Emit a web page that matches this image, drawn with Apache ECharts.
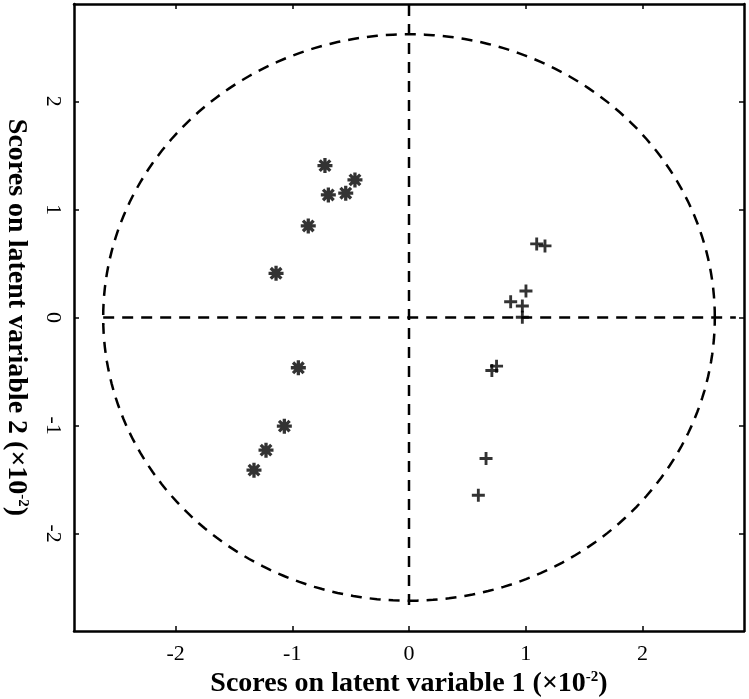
<!DOCTYPE html>
<html>
<head>
<meta charset="utf-8">
<script src="https://cdn.jsdelivr.net/npm/echarts@6/dist/echarts.min.js"></script>
<style>
  html, body { margin: 0; padding: 0; background: #fff; }
  #chart { width: 749px; height: 699px; }
</style>
</head>
<body>
<div id="chart"></div>
<script>
// scores
var groupStar = [
  [-0.72, 1.405], [-0.463, 1.273], [-0.691, 1.134], [-0.542, 1.150],
  [-0.863, 0.847], [-1.139, 0.409], [-0.948, -0.465], [-1.068, -1.005],
  [-1.225, -1.227], [-1.328, -1.412]
];
var groupPlus = [
  [1.094, 0.681], [1.165, 0.662], [1.002, 0.245], [0.871, 0.146],
  [0.971, 0.106], [0.971, 0.002], [0.71, -0.49], [0.75, -0.45],
  [0.66, -1.304], [0.594, -1.644]
];
var tickValues = [-2, -1, 0, 1, 2];
var xRange = [-2.87, 2.87];
var yRange = [-2.9, 2.9];
var circleRadius = 2.62;
var hLine = [[-2.62, 0], [2.8, 0]];
var vLine = [[0, -2.66], [0, 2.9]];

var font = 'Liberation Serif';
var dash = [11, 8];

// 8 spoke asterisk as a filled path
function starPath() {
  var w = 0.22, s = '';
  for (var k = 0; k < 4; k++) {
    var a = k * Math.PI / 4, c = Math.cos(a), n = Math.sin(a);
    var px = -n * w, py = c * w;
    var p = [[c + px, n + py], [-c + px, -n + py], [-c - px, -n - py], [c - px, n - py]];
    s += 'M' + p.map(function (q) { return (q[0] * 10).toFixed(2) + ',' + (q[1] * 10).toFixed(2); }).join('L') + 'Z';
  }
  return 'path://' + s;
}

function axisBase(pos, range, show) {
  return {
    type: 'value', position: pos, min: range[0], max: range[1],
    splitLine: { show: false },
    axisLine: { show: true, onZero: false, lineStyle: { color: '#000', width: 2.5 } },
    axisTick: { show: true, inside: true, length: 5, customValues: tickValues, lineStyle: { color: '#000', width: 1.5 } },
    axisLabel: { show: show, customValues: tickValues, color: '#000', fontFamily: font, fontSize: 22 }
  };
}

var titleStyle = {
  color: '#000', fontFamily: font, fontSize: 28, fontWeight: 'bold',
  rich: { sup: { fontFamily: font, fontSize: 15, fontWeight: 'bold', verticalAlign: 'top', padding: [0, 0, 12, 0] } }
};

var chart = echarts.init(document.getElementById('chart'));

var xMain = axisBase('bottom', xRange, true);
xMain.axisLabel.margin = 12;
xMain.name = 'Scores on latent variable 1 (×10{sup|-2})';
xMain.nameLocation = 'middle';
xMain.nameGap = 36;
xMain.nameTextStyle = titleStyle;

var yMain = axisBase('left', yRange, true);
yMain.axisLabel.rotate = -90;
yMain.axisLabel.margin = 10;
yMain.name = 'Scores on latent variable 2 (×10{sup|-2})';
yMain.nameLocation = 'middle';
yMain.nameRotate = -90;
yMain.nameGap = 44;
yMain.nameTextStyle = titleStyle;

var option = {
  backgroundColor: '#fff',
  animation: false,
  grid: { left: 74, right: 5, top: 4, bottom: 68, containLabel: false, outerBoundsMode: 'none' },
  xAxis: [xMain, axisBase('top', xRange, false)],
  yAxis: [yMain, axisBase('right', yRange, false)],
  series: [
    {
      type: 'custom',
      data: [[0, 0]],
      silent: true,
      renderItem: function (params, api) {
        var cx = api.value(0), cy = api.value(1), pts = [];
        for (var i = 0; i <= 240; i++) {
          var t = i / 240 * 2 * Math.PI;
          pts.push(api.coord([cx + circleRadius * Math.cos(t), cy + circleRadius * Math.sin(t)]));
        }
        return { type: 'polyline', shape: { points: pts }, style: { stroke: '#000', lineWidth: 2.5, lineDash: dash, fill: null } };
      }
    },
    { type: 'line', data: hLine, symbol: 'none', silent: true, lineStyle: { color: '#000', width: 2.5, type: dash } },
    { type: 'line', data: vLine, symbol: 'none', silent: true, lineStyle: { color: '#000', width: 2.5, type: dash } },
    { type: 'scatter', data: groupStar, symbol: starPath(), symbolSize: 15, itemStyle: { color: '#000' } },
    { type: 'scatter', data: groupPlus, symbol: 'path://M3.9,0H6.1V3.9H10V6.1H6.1V10H3.9V6.1H0V3.9H3.9Z', symbolSize: 13, itemStyle: { color: '#000' } }
  ]
};
chart.setOption(option);
</script>
</body>
</html>
